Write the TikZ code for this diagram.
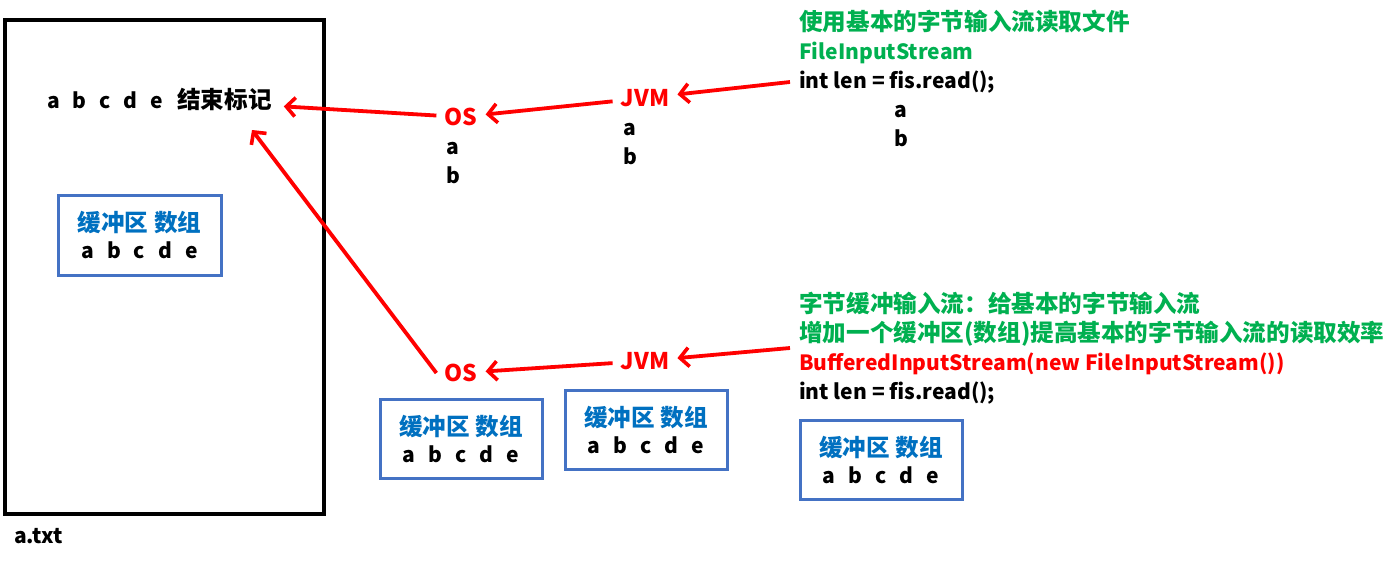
\documentclass[tikz,border=0pt]{standalone}
\usepackage{fontspec}
\setmainfont{Noto Sans CJK SC}
\usetikzlibrary{arrows.meta}
\definecolor{myred}{RGB}{255,0,0}
\definecolor{mygreen}{RGB}{0,176,80}
\definecolor{boxblue}{RGB}{68,114,196}
\definecolor{txtblue}{RGB}{0,112,192}
\newcommand{\lgap}{\hspace{0.62em}}
\newcommand{\ltn}[1]{{\fontsize{21}{29}\selectfont #1}}
\begin{document}
\begin{tikzpicture}[x=1pt,y=-1pt,
  every node/.style={font=\fontsize{23.6}{29}\selectfont\bfseries, inner sep=0pt},
  latin/.style={font=\fontsize{21}{29}\selectfont\bfseries},
  redlbl/.style={text=myred, inner sep=8pt, font=\fontsize{23}{29}\selectfont\bfseries},
  greentxt/.style={text=mygreen, anchor=base west},
  blacktxt/.style={text=black, anchor=base west},
  bufbox/.style={draw=boxblue, line width=3pt, minimum width=162pt, minimum height=79pt, align=center, text=black},
  arr/.style={draw=myred, line width=3.8pt, -{Straight Barb[length=9pt,width=19pt,line width=3.6pt]}}]
\useasboundingbox (0,0) rectangle (1400,562);
% file box
\node[draw=black, line width=3.5pt, minimum width=319pt, minimum height=494pt] (file) at (164.5,267) {};
\node[anchor=base west, latin] (atxt) at (14,543) {a.txt};
\node[anchor=base west, inner xsep=0pt, inner ysep=6pt, outer xsep=12pt] (endmark) at (35,108) {\ltn{a\lgap b\lgap c\lgap d\lgap e}\hspace{0.6em}结束标记};
\node[bufbox, minimum width=163pt, minimum height=80pt] (box1) at (139.5,235) {\textcolor{txtblue}{缓冲区 数组}\\[-2pt] \ltn{a\lgap b\lgap c\lgap d\lgap e}};

% top row
\node[redlbl] (os1) at (461,117) {OS};
\node[blacktxt, latin] (os1a) at (446,154) {a};
\node[blacktxt, latin] (os1b) at (446,183) {b};
\node[redlbl] (jvm1) at (645,98) {JVM};
\node[blacktxt, latin] (jvm1a) at (623,135) {a};
\node[blacktxt, latin] (jvm1b) at (623,164) {b};
\node[greentxt] (t1) at (799,30) {使用基本的字节输入流读取文件};
\node[greentxt, latin] (t2) at (799,59) {FileInputStream};
\node[blacktxt, latin] (t3) at (799,88) {int len = fis.read();};
\node[blacktxt, latin] (t4) at (894,117) {a};
\node[blacktxt, latin] (t5) at (894,146) {b};
\coordinate (s1) at (790,82);
\draw[arr] (s1) -- (jvm1);
\draw[arr] (jvm1) -- (os1);
\draw[arr] (os1) -- (endmark);

% bottom row
\node[redlbl] (os2) at (461,373) {OS};
\node[redlbl] (jvm2) at (645,361) {JVM};
\node[greentxt] (u1) at (799,312) {字节缓冲输入流：给基本的字节输入流};
\node[greentxt] (u2) at (799,341) {增加一个缓冲区(数组)提高基本的字节输入流的读取效率};
\node[anchor=base west, text=myred, latin] (u3) at (799,370) {BufferedInputStream(new FileInputStream())};
\node[blacktxt, latin] (u4) at (799,399) {int len = fis.read();};
\node[bufbox] (box2) at (461,439) {\textcolor{txtblue}{缓冲区 数组}\\[-2pt] \ltn{a\lgap b\lgap c\lgap d\lgap e}};
\node[bufbox] (box3) at (646,429.5) {\textcolor{txtblue}{缓冲区 数组}\\[-2pt] \ltn{a\lgap b\lgap c\lgap d\lgap e}};
\node[bufbox] (box4) at (881,459.5) {\textcolor{txtblue}{缓冲区 数组}\\[-2pt] \ltn{a\lgap b\lgap c\lgap d\lgap e}};
\coordinate (s2) at (790,348);
\coordinate (tipA) at (252,130);
\draw[arr] (s2) -- (jvm2);
\draw[arr] (jvm2) -- (os2);
\draw[arr] (os2.west) -- (tipA);
\end{tikzpicture}
\end{document}
